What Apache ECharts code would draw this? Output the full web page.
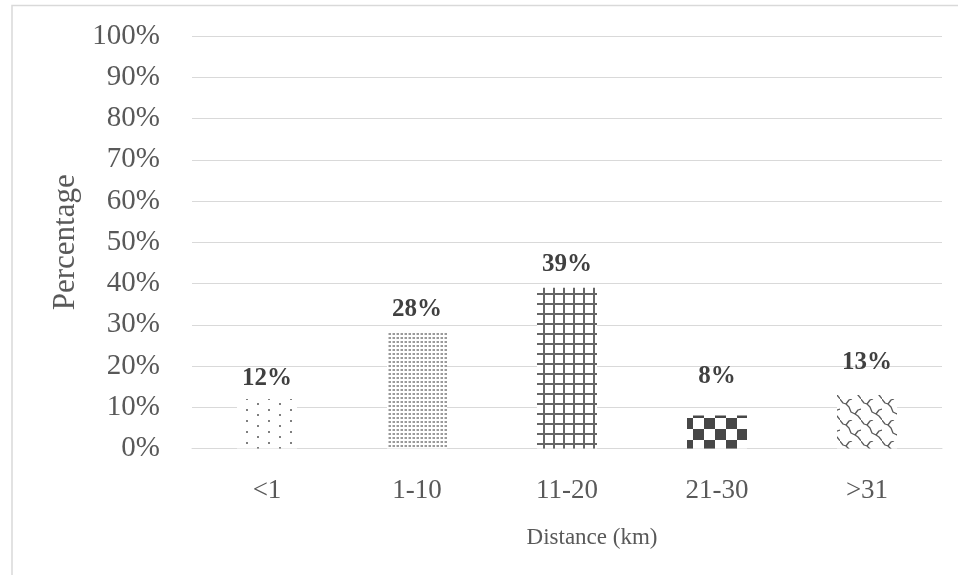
<!DOCTYPE html>
<html>
<head>
<meta charset="utf-8">
<style>
  html, body { margin: 0; padding: 0; background: #fff; }
  #chart { width: 958px; height: 575px; }
</style>
<script src="https://cdn.jsdelivr.net/npm/echarts@6/dist/echarts.min.js"></script>
</head>
<body>
<div id="chart"></div>
<script>
// Distance bands and share of respondents in each
const categories = ['<1', '1-10', '11-20', '21-30', '>31'];
const percentages = [12, 28, 39, 8, 13];
const labelGaps = [8, 11, 11, 26, 20];
const yTicks = { min: 0, max: 100, interval: 10 };

// Hatch fills, one per bar, drawn into small repeating tiles
function tile(w, h, draw) {
  const c = document.createElement('canvas');
  c.width = w; c.height = h;
  const ctx = c.getContext('2d');
  ctx.fillStyle = '#ffffff';
  ctx.fillRect(0, 0, w, h);
  draw(ctx);
  return { image: c, repeat: 'repeat' };
}

const sparseDots = tile(22, 11, ctx => {
  ctx.fillStyle = '#7f7f7f';
  ctx.fillRect(4, 2, 2, 2);
  ctx.fillRect(15, 7, 2, 2);
});

const denseDots = tile(4, 4, ctx => {
  ctx.fillStyle = '#9a9a9a';
  ctx.fillRect(1, 1, 2, 2);
  ctx.fillStyle = '#cfcfcf';
  ctx.fillRect(0, 1, 1, 2);
});

const gridLines = tile(10, 10, ctx => {
  ctx.fillStyle = '#666666';
  ctx.fillRect(3, 0, 2, 10);
  ctx.fillRect(0, 3, 10, 2);
});

const checker = tile(22, 22, ctx => {
  ctx.fillStyle = '#474747';
  ctx.fillRect(0, 0, 11, 11);
  ctx.fillRect(11, 11, 11, 11);
});

const weave = tile(21, 21, ctx => {
  ctx.strokeStyle = '#5a5a5a';
  ctx.lineWidth = 1.3;
  ctx.lineJoin = 'round';
  ctx.beginPath();
  // wavy diagonal strand, continuous across tiles
  ctx.moveTo(-1, -1); ctx.lineTo(3, 4); ctx.lineTo(6, 5); ctx.lineTo(9, 8);
  ctx.lineTo(11, 13); ctx.lineTo(15, 15); ctx.lineTo(18, 17); ctx.lineTo(22, 22);
  // hooks branching up and to the right
  ctx.moveTo(6, 5); ctx.lineTo(9, 1); ctx.lineTo(12, 0);
  ctx.moveTo(15, 15); ctx.lineTo(18, 11); ctx.lineTo(21, 10);
  ctx.moveTo(-6, 10); ctx.lineTo(0, 10);
  ctx.stroke();
});

const fills = [sparseDots, denseDots, gridLines, checker, weave];

const serif = '"Liberation Serif", "Times New Roman", serif';
const chart = echarts.init(document.getElementById('chart'), null, { renderer: 'canvas' });

chart.setOption({
  animation: false,
  backgroundColor: '#ffffff',
  graphic: [{
    type: 'rect',
    shape: { x: 12, y: 5.5, width: 1000, height: 700 },
    style: { fill: 'none', stroke: '#d9d9d9', lineWidth: 1.5 },
    silent: true
  }],
  grid: { left: 192, right: 16, top: 36, bottom: 126.5 },
  xAxis: {
    type: 'category',
    data: categories,
    name: 'Distance (km)',
    nameLocation: 'middle',
    nameGap: 78,
    nameTextStyle: { fontFamily: serif, fontSize: 23, color: '#595959', padding: [0, 0, 0, 50] },
    axisLine: { lineStyle: { color: '#d9d9d9', width: 1 } },
    axisTick: { show: false },
    axisLabel: { fontFamily: serif, fontSize: 27, color: '#595959', margin: 29 }
  },
  yAxis: {
    type: 'value',
    min: yTicks.min,
    max: yTicks.max,
    interval: yTicks.interval,
    name: 'Percentage',
    nameLocation: 'middle',
    nameGap: 104,
    nameTextStyle: { fontFamily: serif, fontSize: 31, color: '#595959' },
    axisLine: { show: false },
    axisTick: { show: false },
    splitLine: { lineStyle: { color: '#d9d9d9', width: 1 } },
    axisLabel: { fontFamily: serif, fontSize: 29, color: '#595959', margin: 32, formatter: '{value}%' }
  },
  series: [{
    type: 'bar',
    barWidth: '40%',
    data: percentages.map((v, i) => ({
      value: v,
      itemStyle: { color: fills[i] },
      label: { distance: labelGaps[i] }
    })),
    label: {
      show: true,
      position: 'top',
      formatter: '{c}%',
      fontFamily: serif,
      fontSize: 25,
      fontWeight: 'bold',
      color: '#404040'
    }
  }]
});
</script>
</body>
</html>
